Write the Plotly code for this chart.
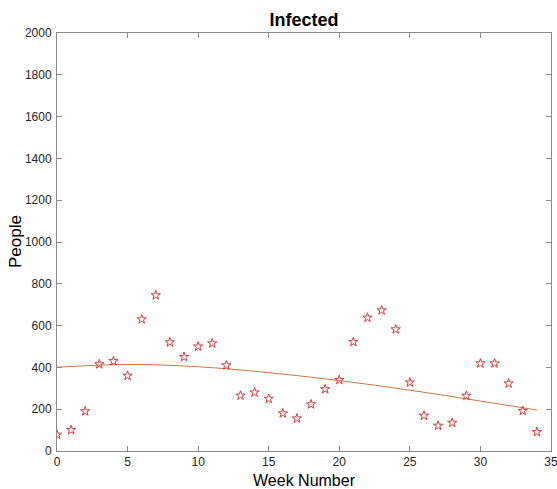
import plotly.graph_objects as go

weeks = list(range(35))
infected = [78, 100, 190, 415, 430, 360, 630, 745, 520, 450,
            500, 515, 410, 265, 280, 250, 180, 156, 223, 296,
            340, 522, 638, 673, 582, 328, 169, 121, 135, 264,
            419, 419, 323, 192, 91]

fit_x = [0, 5, 10, 15, 20, 25, 30, 34]
fit_y = [401, 414, 403, 375, 337, 291, 239, 196]

x_ticks = [0, 5, 10, 15, 20, 25, 30, 35]
y_ticks = list(range(0, 2001, 200))

FONT = "Liberation Sans, Arial"

fig = go.Figure()
fig.add_trace(go.Scatter(x=fit_x, y=fit_y, mode="lines",
                         line=dict(color="#D0763F", width=1, shape="spline"),
                         showlegend=False))
fig.add_trace(go.Scatter(x=weeks, y=infected, mode="markers",
                         marker=dict(symbol="star-open", size=7, color="#d63c3c",
                                     line=dict(width=1, color="#d63c3c")),
                         showlegend=False))

axis_common = dict(showgrid=False, zeroline=False, showline=True, linecolor="#8a8a8a",
                   linewidth=1, mirror="ticks", ticks="inside", ticklen=5,
                   tickcolor="#8a8a8a", automargin=False, ticklabeloverflow="allow",
                   tickfont=dict(family=FONT, size=12, color="#262626"))

fig.update_layout(
    width=557, height=489,
    margin=dict(l=57, r=6, t=33, b=38),
    paper_bgcolor="white", plot_bgcolor="white",
    title=dict(text="<b>Infected</b>", x=0.5, xanchor="center", xref="paper",
               y=1 - 20/489, yanchor="middle",
               font=dict(family=FONT, size=18, color="black")),
    xaxis=dict(range=[0, 35], tickvals=x_ticks,
               title=dict(text="Week Number", standoff=6,
                          font=dict(family=FONT, size=16, color="black")),
               **axis_common),
    yaxis=dict(range=[0, 2000], tickvals=y_ticks, ticklabelstandoff=2,
               **axis_common),
    annotations=[dict(text="People", textangle=-90, xref="paper", yref="paper",
                      x=(15 - 57) / 494, y=0.5, xanchor="center", yanchor="middle",
                      showarrow=False, font=dict(family=FONT, size=17, color="black"))],
)

fig.write_html("out.html")
